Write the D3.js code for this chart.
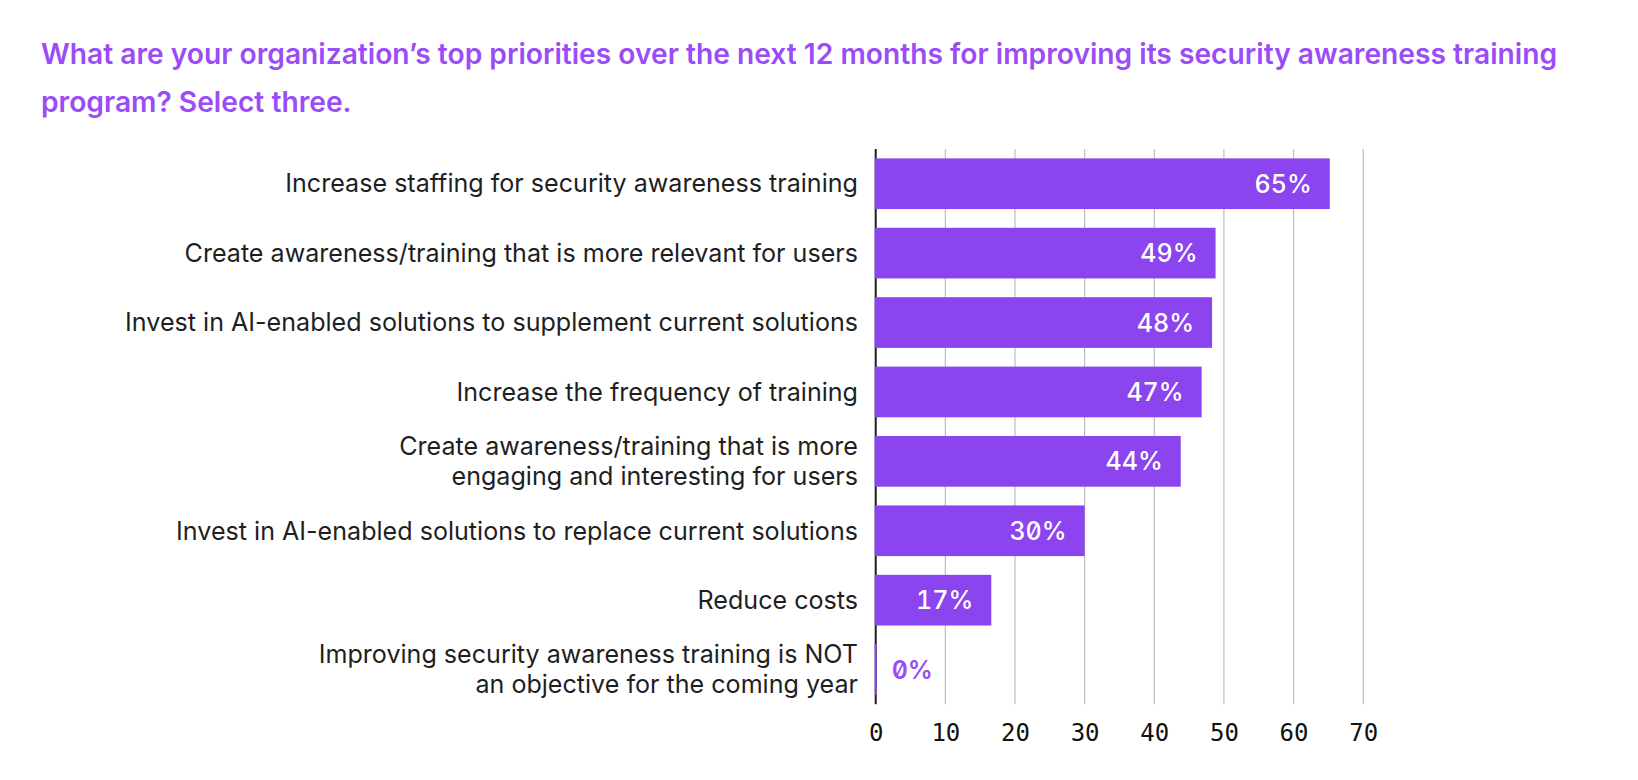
<!DOCTYPE html>
<html>
<head>
<meta charset="utf-8">
<script src="https://cdn.jsdelivr.net/npm/d3@7"></script>
<style>
  html, body { margin: 0; padding: 0; background: #ffffff; }
  svg { display: block; }
  .val { font-feature-settings: "zero" 1, "tnum" 1; }
</style>
</head>
<body>
<svg id="chart" width="1638" height="780"></svg>
<script>
const titleLines = [
  "What are your organization\u2019s top priorities over the next 12 months for improving its security awareness training",
  "program? Select three."
];
const categories = [
  ["Increase staffing for security awareness training"],
  ["Create awareness/training that is more relevant for users"],
  ["Invest in AI-enabled solutions to supplement current solutions"],
  ["Increase the frequency of training"],
  ["Create awareness/training that is more", "engaging and interesting for users"],
  ["Invest in AI-enabled solutions to replace current solutions"],
  ["Reduce costs"],
  ["Improving security awareness training is NOT", "an objective for the coming year"]
];
// bar lengths (labels show the rounded percentage)
const values = [65.2, 48.8, 48.3, 46.8, 43.8, 30.0, 16.6, 0];
const tickValues = [0, 10, 20, 30, 40, 50, 60, 70];

const svg = d3.select("#chart");
const barColor = "#8b44ee";
const purpleText = "#9a4cf6";
const fmt = d => d3.format(".0f")(d) + "%";

const x = d3.scaleLinear().domain([0, 70]).range([875.7, 1363.2]);
const y = d3.scaleBand().domain(d3.range(values.length)).range([149, 704.3])
  .paddingInner(0.27).paddingOuter(0.135);

// Title
const title = svg.append("g");
titleLines.forEach((t, i) => {
  title.append("text")
    .attr("x", 41).attr("y", 64 + i * 48)
    .attr("font-family", "Inter, 'Noto Sans', sans-serif")
    .attr("font-weight", 600)
    .attr("font-size", 28.2)
    .attr("fill", purpleText)
    .text(t);
});

// Gridlines
svg.append("g").selectAll("line").data(tickValues.slice(1)).join("line")
  .attr("x1", d => x(d)).attr("x2", d => x(d))
  .attr("y1", 149).attr("y2", 704.3)
  .attr("stroke", "#bdbdbd").attr("stroke-width", 1.2);

// Axis ticks via d3 axis
const xAxis = d3.axisBottom(x).tickValues(tickValues).tickSize(0).tickPadding(20).tickFormat(d3.format("d"));
const ax = svg.append("g").attr("transform", "translate(0,704.3)").call(xAxis);
ax.select(".domain").remove();
ax.selectAll("text")
  .attr("font-family", "'DejaVu Sans Mono', monospace")
  .attr("font-size", 24)
  .attr("fill", "#111");

// y axis line
svg.append("line")
  .attr("x1", x(0)).attr("x2", x(0)).attr("y1", 149).attr("y2", 704.3)
  .attr("stroke", "#1e1e1e").attr("stroke-width", 2);

// Bars
svg.append("g").selectAll("rect").data(values).join("rect")
  .attr("x", x(0) - 1)
  .attr("y", (d, i) => y(i))
  .attr("width", d => Math.max(2, x(d) - x(0) + 1))
  .attr("height", y.bandwidth())
  .attr("fill", barColor);

// Value labels
svg.append("g").selectAll("text").data(values).join("text")
  .attr("class", "val")
  .attr("x", d => d > 5 ? x(d) - 18 : x(d) + 16)
  .attr("y", (d, i) => y(i) + y.bandwidth() / 2)
  .attr("dy", "0.36em")
  .attr("text-anchor", d => d > 5 ? "end" : "start")
  .attr("font-family", "Inter, 'Noto Sans', sans-serif")
  .attr("font-size", 25)
  .attr("font-weight", d => d > 5 ? 500 : 600)
  .attr("fill", d => d > 5 ? "#ffffff" : purpleText)
  .text(fmt);

// Category labels
const lab = svg.append("g").selectAll("text").data(categories).join("text")
  .attr("text-anchor", "end")
  .attr("font-family", "Inter, 'Noto Sans', sans-serif")
  .attr("font-size", 25.1)
  .attr("fill", "#1f1f1f");
lab.each(function(lines, i) {
  const cy = y(i) + y.bandwidth() / 2;
  const n = lines.length;
  d3.select(this).selectAll("tspan").data(lines).join("tspan")
    .attr("x", 858)
    .attr("y", (l, j) => cy + (j - (n - 1) / 2) * 30)
    .attr("dy", "0.35em")
    .text(l => l);
});
</script>
</body>
</html>
